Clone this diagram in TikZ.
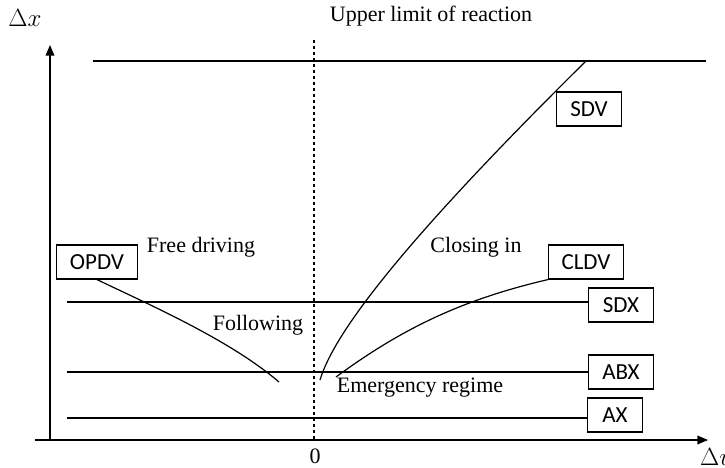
\documentclass[tikz,border=0pt]{standalone}
\usepackage{amsmath,amssymb}
\usepackage{fontspec}
\setmainfont{Liberation Serif}
\newfontfamily\boxfont{Carlito}
\usepackage{tikz}
\usetikzlibrary{arrows, positioning}

\begin{document}
\begin{tikzpicture}[x=1pt, y=-1pt]
\tikzstyle{limit} = [rectangle, draw=black, line width=1.2pt, minimum width=65pt, minimum height=34pt, inner sep=0pt, font=\boxfont\fontsize{23}{25}\selectfont]
\tikzstyle{regime} = [inner sep=0pt, font=\fontsize{22}{24}\selectfont]
\tikzstyle{axis} = [line width=1.5pt, ->, >=triangle 45]
\tikzstyle{curve} = [line width=1.2pt]

\useasboundingbox (0,0) rectangle (725,468);

% axes
\coordinate (orig) at (50,440);
\coordinate (ytop) at (50,45);
\coordinate (xleft) at (35,440);
\coordinate (xright) at (708,440);
\draw [axis] (orig) -- (ytop);
\draw [axis] (xleft) -- (xright);
\node (dx) at (25,18) [font=\fontsize{27}{29}\selectfont] {$\Delta x$};
\node (dv) at (716,457) [font=\fontsize{27}{29}\selectfont] {$\Delta v$};
\node (zero) at (315,456) [regime] {0};

% zero relative speed
\coordinate (ztop) at (314,40);
\coordinate (zbot) at (314,440);
\draw [dashed, curve] (ztop) -- (zbot);

% upper limit of reaction
\coordinate (uleft) at (93,61);
\coordinate (uright) at (706,61);
\draw [curve] (uleft) -- (uright);
\node (upper) at (431,16) [regime] {Upper limit of reaction};

% threshold boxes
\node (sdv) at (589,109) [limit] {SDV};
\node (cldv) at (586,262) [limit, minimum width=75pt] {CLDV};
\node (opdv) at (97,262) [limit, minimum width=81pt] {OPDV};
\node (sdx) at (621,305) [limit] {SDX};
\node (abx) at (621,372) [limit] {ABX};
\node (ax) at (615,415) [limit, minimum width=55pt] {AX};

% distance thresholds
\coordinate (sdxl) at (67,302);
\coordinate (abxl) at (67,372);
\coordinate (axl) at (67,418);
\draw [curve] (sdxl) -- (sdx.west |- sdxl);
\draw [curve] (abxl) -- (abx.west);
\draw [curve] (axl) -- (ax.west |- axl);

% speed difference thresholds
\coordinate (sdvbot) at (320,380);
\coordinate (sdvtop) at (586,61);
\coordinate (cldvbot) at (336,377);
\coordinate (opdvend) at (279,382);
\draw [curve] (sdvbot) .. controls (335,330) and (410,235) .. (sdvtop);
\draw [curve] (cldvbot) .. controls (400,330) and (460,300) .. (cldv.south west);
\draw [curve] (opdv.south) .. controls (150,305) and (230,340) .. (opdvend);

% regimes
\node (free) at (201,247) [regime] {Free driving};
\node (follow) at (258,325) [regime] {Following};
\node (closing) at (476,247) [regime] {Closing in};
\node (emerg) at (420,388) [regime] {Emergency regime};
\end{tikzpicture}
\end{document}
